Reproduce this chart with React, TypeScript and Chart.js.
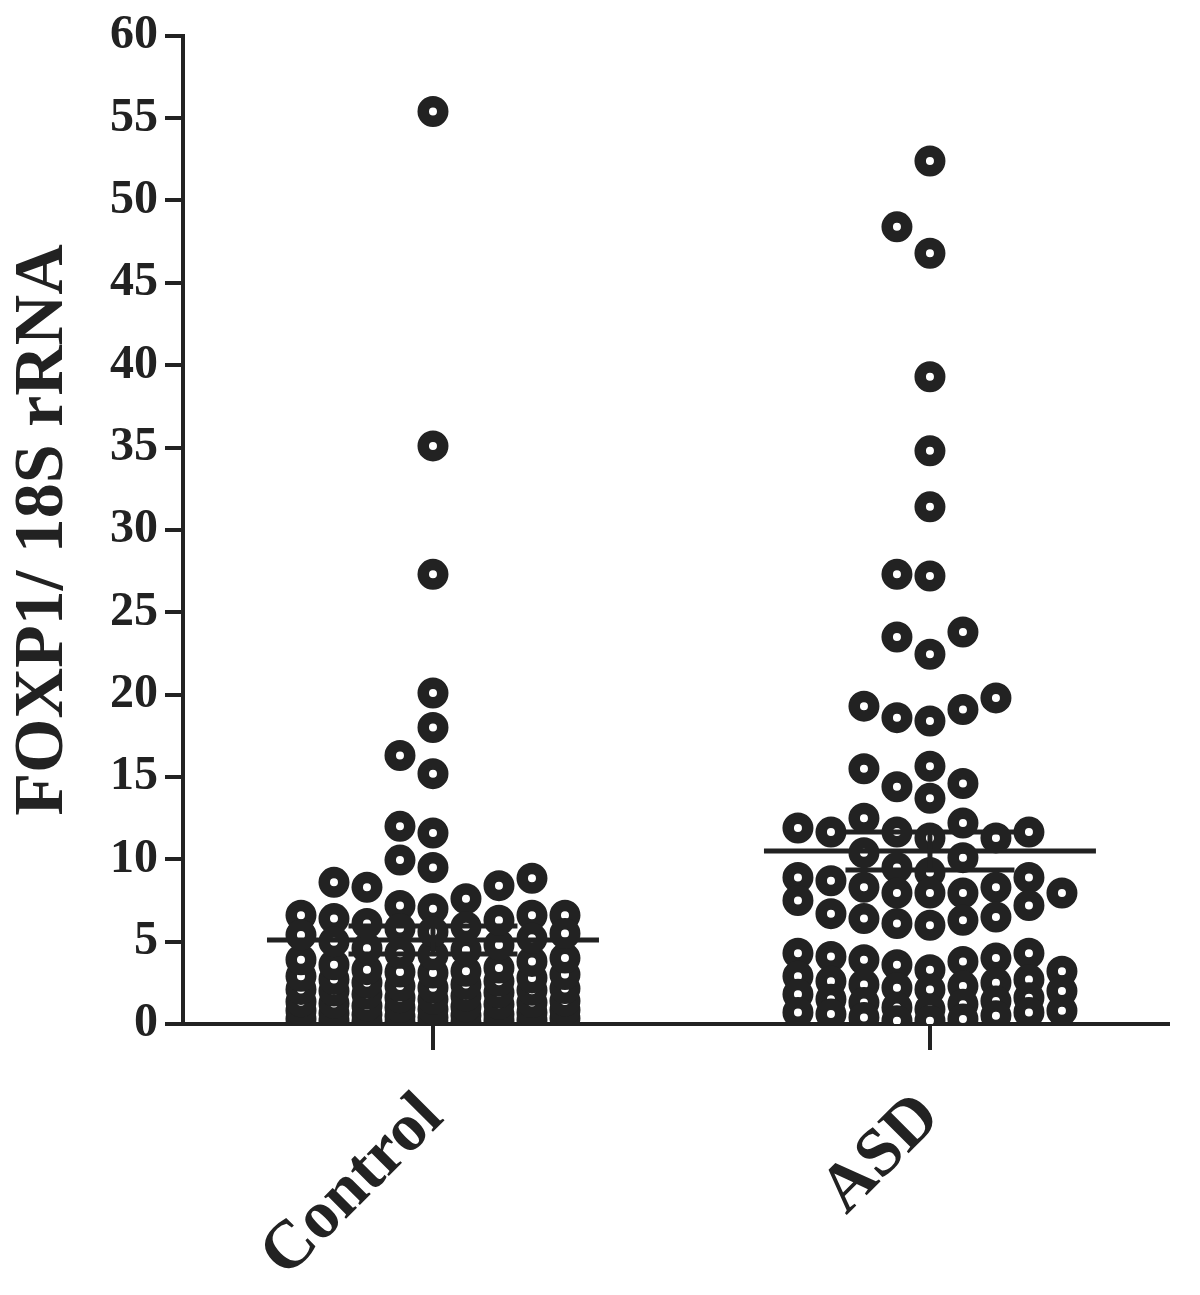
import React, { useEffect, useRef } from "react";
import { Chart, registerables } from "chart.js";

Chart.register(...registerables);

// ---- data ----
const categories = ["Control", "ASD"];

const controlValues = [
  55.4, 35.1, 27.3, 20.1, 18.0, 16.3, 15.2, 12.0, 11.6, 9.95, 9.5, 8.85, 8.6, 8.4, 8.3, 7.6, 7.2, 7.0,
  6.6, 6.6, 6.6, 6.4, 5.8,
  0.05, 0.1, 0.1, 0.15, 0.2, 0.2, 0.25, 0.3, 0.35, 0.4, 0.45, 0.5, 0.55,
  0.6, 0.65, 0.7, 0.8, 0.85, 0.9, 1.0, 1.05, 1.1, 1.2, 1.25, 1.3, 1.35, 1.4,
  1.5, 1.6, 1.7, 1.8, 1.9, 2.0, 2.05, 2.1, 2.15, 2.2, 2.3, 2.4,
  2.5, 2.6, 2.7, 2.8, 2.9, 3.0, 3.1, 3.15, 3.2, 3.3,
  3.4, 3.6, 3.8, 3.9, 4.0, 4.2, 4.3, 4.5, 4.6, 4.8,
  5.0, 5.2, 5.4, 5.5, 5.6, 5.9, 6.1, 6.3,
];

const asdValues = [
  52.4, 48.4, 46.8, 39.3, 34.8, 31.4, 27.3, 27.2, 23.8, 23.5, 22.45, 19.8, 19.3, 19.1, 18.6, 18.4,
  15.65, 15.5, 14.6, 14.4, 13.7,
  12.5, 12.2, 11.9, 11.65, 11.65, 11.65, 11.3, 11.3, 10.4, 10.1, 9.5, 9.2, 8.9, 8.9, 8.7, 8.3, 8.3,
  7.95, 7.95, 7.95, 7.95, 7.5, 7.2, 6.7, 6.5, 6.4, 6.3, 6.1, 6.0,
  4.3, 4.3, 4.1, 4.0, 3.9, 3.8, 3.6, 3.3, 3.2, 2.9, 2.7, 2.6, 2.5, 2.4, 2.3, 2.2, 2.1, 2.0,
  1.8, 1.6, 1.5, 1.4, 1.3, 1.2, 1.0, 0.9, 0.8, 0.7, 0.7, 0.6, 0.5, 0.4, 0.3, 0.2, 0.2,
];

const groupMeans = [5.1, 10.5];
const groupSEM = [0.85, 1.15];

const yTicks = [0, 5, 10, 15, 20, 25, 30, 35, 40, 45, 50, 55, 60];

// ---- styling / layout constants ----
const INK = "#222";
const SERIF = "'Liberation Serif', 'Times New Roman', serif";
const SLOT = 0.0664; // horizontal spacing between swarm columns (x units)
const MIN_GAP = 1.9; // vertical gap needed to share a column (y units)
const MEAN_HALF = 0.334;
const CAP_HALF = 0.17;

function swarm(values: number[], center: number) {
  const order = [0, -1, 1, -2, 2, -3, 3, -4, 4];
  const placed: Record<number, number[]> = {};
  const idx = values.map((_, i) => i).sort((a, b) => values[a] - values[b]);
  const out: { x: number; y: number }[] = new Array(values.length);
  for (const i of idx) {
    const v = values[i];
    let best = 0;
    let bestD = -1;
    for (const s of order) {
      const arr = placed[s] || [];
      const d = arr.length ? Math.min(...arr.map((u) => Math.abs(u - v))) : Infinity;
      if (d >= MIN_GAP) {
        best = s;
        bestD = d;
        break;
      }
      if (d > bestD + 1e-9) {
        bestD = d;
        best = s;
      }
    }
    (placed[best] = placed[best] || []).push(v);
    out[i] = { x: center + best * SLOT, y: v };
  }
  return out;
}

function meanLine(g: number) {
  const c = g + 1;
  return [
    { x: c - MEAN_HALF, y: groupMeans[g] },
    { x: c + MEAN_HALF, y: groupMeans[g] },
  ];
}

function semBars(g: number) {
  const c = g + 1;
  const hi = groupMeans[g] + groupSEM[g];
  const lo = groupMeans[g] - groupSEM[g];
  return [
    { x: c - CAP_HALF, y: hi },
    { x: c + CAP_HALF, y: hi },
    { x: c + CAP_HALF, y: null },
    { x: c, y: hi },
    { x: c, y: lo },
    { x: c, y: null },
    { x: c - CAP_HALF, y: lo },
    { x: c + CAP_HALF, y: lo },
  ];
}

export default function App() {
  const ref = useRef<HTMLCanvasElement | null>(null);

  useEffect(() => {
    if (!ref.current) return;
    const lineDs = (data: any[]) => ({
      type: "scatter" as const,
      data,
      showLine: true,
      spanGaps: false,
      borderColor: INK,
      borderWidth: 5,
      pointRadius: 0,
      pointHoverRadius: 0,
      fill: false,
    });
    const pointDs = (data: any[]) => ({
      data,
      showLine: false,
      pointRadius: 9.75,
      pointBorderWidth: 11.5,
      pointBackgroundColor: "#ffffff",
      pointBorderColor: INK,
    });

    const chart = new Chart(ref.current, {
      type: "scatter",
      data: {
        datasets: [
          lineDs(meanLine(0)),
          lineDs(meanLine(1)),
          lineDs(semBars(0)),
          lineDs(semBars(1)),
          pointDs(swarm(controlValues, 1)),
          pointDs(swarm(asdValues, 2)),
        ] as any,
      },
      options: {
        responsive: false,
        animation: false,
        devicePixelRatio: 1,
        layout: { padding: { top: 33, right: 32, left: 0, bottom: 0 } },
        plugins: {
          legend: { display: false },
          tooltip: { enabled: false },
          title: { display: false },
        },
        scales: {
          x: {
            type: "linear",
            min: 0.497,
            max: 2.479,
            afterFit: (s: any) => {
              s.height = 271;
            },
            afterBuildTicks: (s: any) => {
              s.ticks = categories.map((_, i) => ({ value: i + 1 }));
            },
            border: { display: true, color: INK, width: 4 },
            grid: {
              drawOnChartArea: false,
              drawTicks: true,
              tickLength: 26,
              tickWidth: 4,
              color: INK,
              lineWidth: 4,
            },
            ticks: {
              minRotation: 45,
              maxRotation: 45,
              autoSkip: false,
              padding: 28,
              color: INK,
              font: { family: SERIF, size: 68, weight: "bold" },
              callback: (v: any) => categories[Math.round(Number(v)) - 1] ?? "",
            },
          },
          y: {
            type: "linear",
            min: 0,
            max: 60,
            afterFit: (s: any) => {
              s.width = 183;
            },
            afterBuildTicks: (s: any) => {
              s.ticks = yTicks.map((v) => ({ value: v }));
            },
            border: { display: true, color: INK, width: 4 },
            grid: {
              drawOnChartArea: false,
              drawTicks: true,
              tickLength: 18,
              tickWidth: 4,
              color: INK,
              lineWidth: 4,
            },
            ticks: {
              padding: 7,
              color: INK,
              autoSkip: false,
              font: { family: SERIF, size: 48, weight: "bold" },
            },
            title: {
              display: true,
              text: "FOXP1/ 18S rRNA",
              color: INK,
              padding: { top: 2, bottom: 0 },
              font: { family: SERIF, size: 70, weight: "bold", lineHeight: 1.2 },
            },
          },
        },
      },
    });
    return () => chart.destroy();
  }, []);

  return (
    <div style={{ position: "absolute", left: 0, top: 0, width: 1200, height: 1295, background: "#fff" }}>
      <canvas ref={ref} width={1200} height={1295} style={{ display: "block", width: 1200, height: 1295 }} />
    </div>
  );
}
